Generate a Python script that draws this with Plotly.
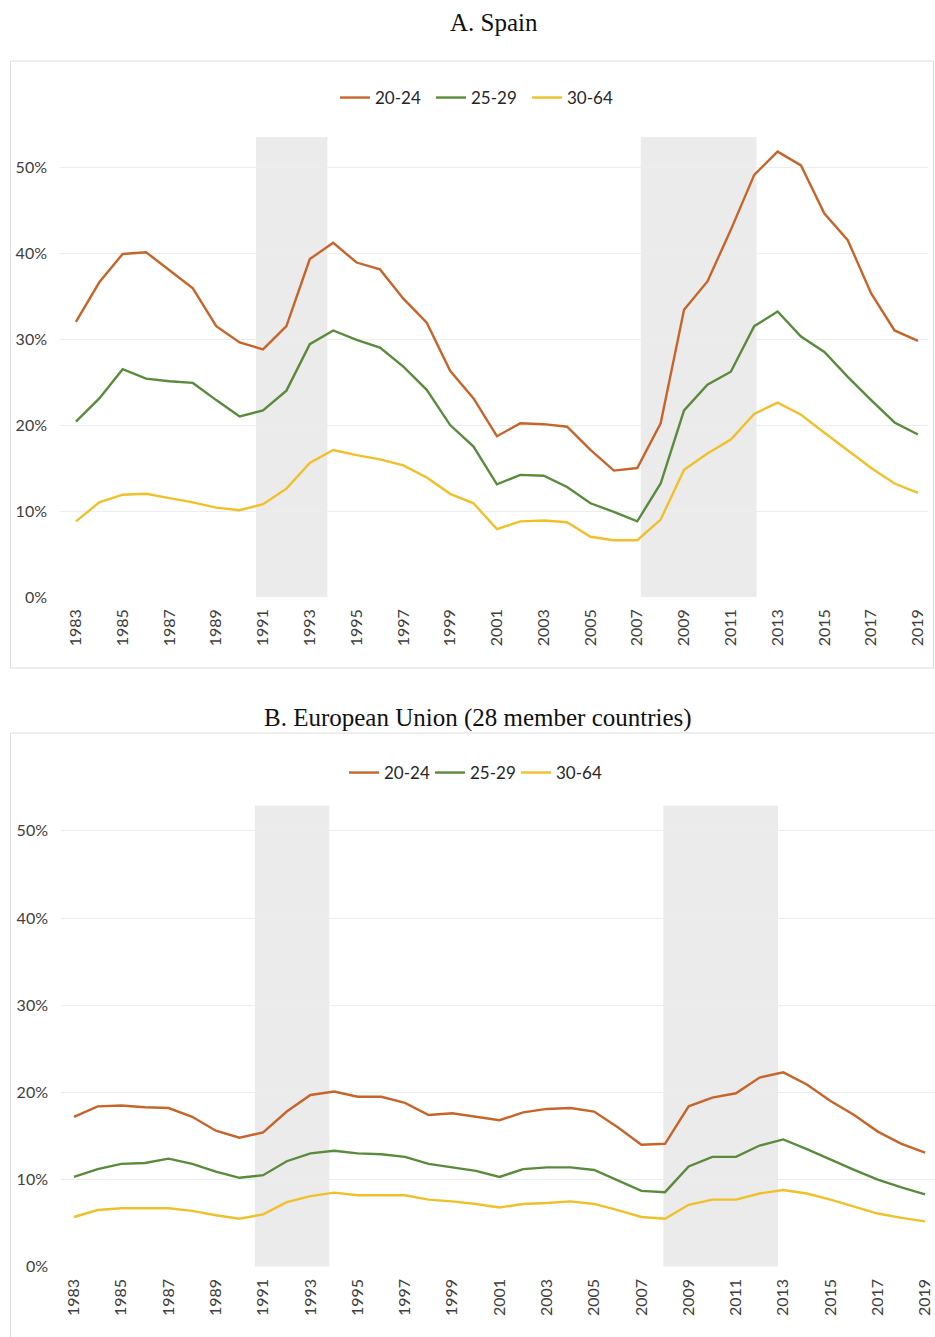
import plotly.graph_objects as go

years = list(range(1983, 2020))
tick_years = list(range(1983, 2020, 2))
tick_labels = [str(y) for y in tick_years]
age_groups = ["20-24", "25-29", "30-64"]

spain_20_24 = [32.0, 36.6, 39.9, 40.1, 38.0, 35.9, 31.5, 29.6, 28.8, 31.5,
               39.3, 41.2, 38.9, 38.1, 34.7, 31.9, 26.3, 23.1, 18.7, 20.2,
               20.1, 19.8, 17.1, 14.7, 15.0, 20.2, 33.4, 36.7, 42.7, 49.1,
               51.8, 50.2, 44.6, 41.5, 35.3, 31.0, 29.8]
spain_25_29 = [20.4, 23.1, 26.5, 25.4, 25.1, 24.9, 22.9, 21.0, 21.7, 24.0,
               29.4, 31.0, 29.9, 29.0, 26.8, 24.1, 20.0, 17.5, 13.1, 14.2,
               14.1, 12.8, 10.9, 9.9, 8.8, 13.2, 21.7, 24.7, 26.2, 31.5,
               33.2, 30.3, 28.5, 25.6, 22.9, 20.3, 18.9]
spain_30_64 = [8.8, 11.0, 11.9, 12.0, 11.5, 11.0, 10.4, 10.1, 10.8, 12.6,
               15.6, 17.1, 16.5, 16.0, 15.3, 13.9, 12.0, 10.9, 7.9, 8.8,
               8.9, 8.7, 7.0, 6.6, 6.6, 9.0, 14.8, 16.7, 18.3, 21.3,
               22.6, 21.2, 19.1, 17.1, 15.0, 13.2, 12.1]

eu_20_24 = [17.2, 18.4, 18.5, 18.3, 18.2, 17.2, 15.6, 14.8, 15.4, 17.8,
            19.7, 20.1, 19.5, 19.5, 18.8, 17.4, 17.6, 17.2, 16.8, 17.7,
            18.1, 18.2, 17.8, 16.0, 14.0, 14.1, 18.4, 19.4, 19.9, 21.7,
            22.3, 20.9, 19.0, 17.4, 15.5, 14.1, 13.1]
eu_25_29 = [10.3, 11.2, 11.8, 11.9, 12.4, 11.8, 10.9, 10.2, 10.5, 12.1,
            13.0, 13.3, 13.0, 12.9, 12.6, 11.8, 11.4, 11.0, 10.3, 11.2,
            11.4, 11.4, 11.1, 9.9, 8.7, 8.55, 11.5, 12.6, 12.6, 13.9,
            14.6, 13.5, 12.3, 11.1, 10.0, 9.1, 8.3]
eu_30_64 = [5.7, 6.5, 6.7, 6.7, 6.7, 6.4, 5.9, 5.5, 6.0, 7.4,
            8.1, 8.5, 8.2, 8.2, 8.2, 7.7, 7.5, 7.2, 6.8, 7.2,
            7.3, 7.5, 7.2, 6.5, 5.7, 5.5, 7.1, 7.7, 7.7, 8.4,
            8.8, 8.4, 7.7, 6.9, 6.1, 5.6, 5.2]

# recession bands (start, end) in years
spain_recessions = [(1990.7, 1993.75), (2007.15, 2012.1)]
eu_recessions = [(1990.65, 1993.8), (2007.93, 2012.78)]
spain_band_top = 0.535
eu_band_top = 0.529

colors = ["#C5652A", "#5A8A3C", "#F0C02A"]

# reference canvas, used to express positions as fractions of the page
W, H = 935, 1337


def px(x):
    return x / W


def py(y):
    return 1 - y / H


fig = go.Figure()

for vals, name, col in zip([spain_20_24, spain_25_29, spain_30_64], age_groups, colors):
    fig.add_trace(go.Scatter(x=years, y=[v / 100 for v in vals], name=name, mode="lines",
                             line=dict(color=col, width=2.4), xaxis="x", yaxis="y",
                             legend="legend", hoverinfo="skip"))
for vals, name, col in zip([eu_20_24, eu_25_29, eu_30_64], age_groups, colors):
    fig.add_trace(go.Scatter(x=years, y=[v / 100 for v in vals], name=name, mode="lines",
                             line=dict(color=col, width=2.4), xaxis="x2", yaxis="y2",
                             legend="legend2", hoverinfo="skip"))

shapes = []
for x0, x1 in spain_recessions:
    shapes.append(dict(type="rect", xref="x", yref="y", x0=x0, x1=x1, y0=0, y1=spain_band_top,
                       fillcolor="#EBEBEB", line=dict(width=0), layer="below"))
for x0, x1 in eu_recessions:
    shapes.append(dict(type="rect", xref="x2", yref="y2", x0=x0, x1=x1, y0=0, y1=eu_band_top,
                       fillcolor="#EBEBEB", line=dict(width=0), layer="below"))
# chart frames
shapes.append(dict(type="rect", xref="paper", yref="paper", x0=px(10.5), x1=px(933.5),
                   y0=py(668), y1=py(61), line=dict(color="#DCDCDC", width=1),
                   fillcolor="rgba(0,0,0,0)", layer="below"))
shapes.append(dict(type="rect", xref="paper", yref="paper", x0=px(10.5), x1=1.05,
                   y0=-0.05, y1=py(733), line=dict(color="#DCDCDC", width=1),
                   fillcolor="rgba(0,0,0,0)", layer="below"))

tickfont = dict(family="Lato, Open Sans, sans-serif", size=16, color="#404040")

xcommon = dict(tickmode="array", tickvals=tick_years, ticktext=tick_labels, tickangle=-90,
               showgrid=False, zeroline=False, showline=False, ticks="", tickfont=tickfont,
               ticklabelstandoff=8, ticklabeloverflow="allow")
ycommon = dict(tickmode="array", tickvals=[0, 0.1, 0.2, 0.3, 0.4, 0.5], tickformat=".0%",
               showgrid=True, gridcolor="#EDEDED", gridwidth=1, zeroline=False, showline=False,
               ticks="", tickfont=tickfont, ticklabelstandoff=12)

legfont = dict(family="Lato, Open Sans, sans-serif", size=17, color="#262626")
titlefont = dict(family="Liberation Serif, Times New Roman, serif", size=25, color="#111111")

fig.update_layout(
    autosize=True,
    margin=dict(l=0, r=0, t=0, b=0, autoexpand=False),
    paper_bgcolor="white", plot_bgcolor="white",
    xaxis=dict(domain=[px(60), px(928)], range=[1982.32, 2019.43], anchor="y", **xcommon),
    yaxis=dict(domain=[py(597), py(137)], range=[0, spain_band_top], anchor="x", **ycommon),
    xaxis2=dict(domain=[px(61), 1.0], range=[1982.45, 2019.42], anchor="y2", **xcommon),
    yaxis2=dict(domain=[py(1266.7), py(805.6)], range=[0, eu_band_top], anchor="x2", **ycommon),
    legend=dict(orientation="h", x=px(479), xanchor="center", y=py(98), yanchor="middle",
                font=legfont, bgcolor="rgba(0,0,0,0)", itemwidth=30, tracegroupgap=0,
                entrywidth=51, entrywidthmode="pixels"),
    legend2=dict(orientation="h", x=px(473), xanchor="center", y=py(773), yanchor="middle",
                 font=legfont, bgcolor="rgba(0,0,0,0)", itemwidth=30, tracegroupgap=0,
                 entrywidth=41, entrywidthmode="pixels"),
    shapes=shapes,
    annotations=[
        dict(text="A. Spain", xref="paper", yref="paper", x=px(494), y=py(22),
             xanchor="center", yanchor="middle", showarrow=False, font=titlefont),
        dict(text="B. European Union (28 member countries)", xref="paper", yref="paper",
             x=px(477.5), y=py(718), xanchor="center", yanchor="middle", showarrow=False,
             font=titlefont),
    ],
    showlegend=True,
)

fig.write_html(
    "out.html",
    default_width="100vw",
    default_height="100vh",
    config={"displayModeBar": False, "responsive": True},
    post_script=(
        "document.documentElement.style.margin='0';"
        "document.body.style.margin='0';"
        "document.body.style.overflow='hidden';"
        "Plotly.Plots.resize(document.getElementById('{plot_id}'));"
    ),
)
